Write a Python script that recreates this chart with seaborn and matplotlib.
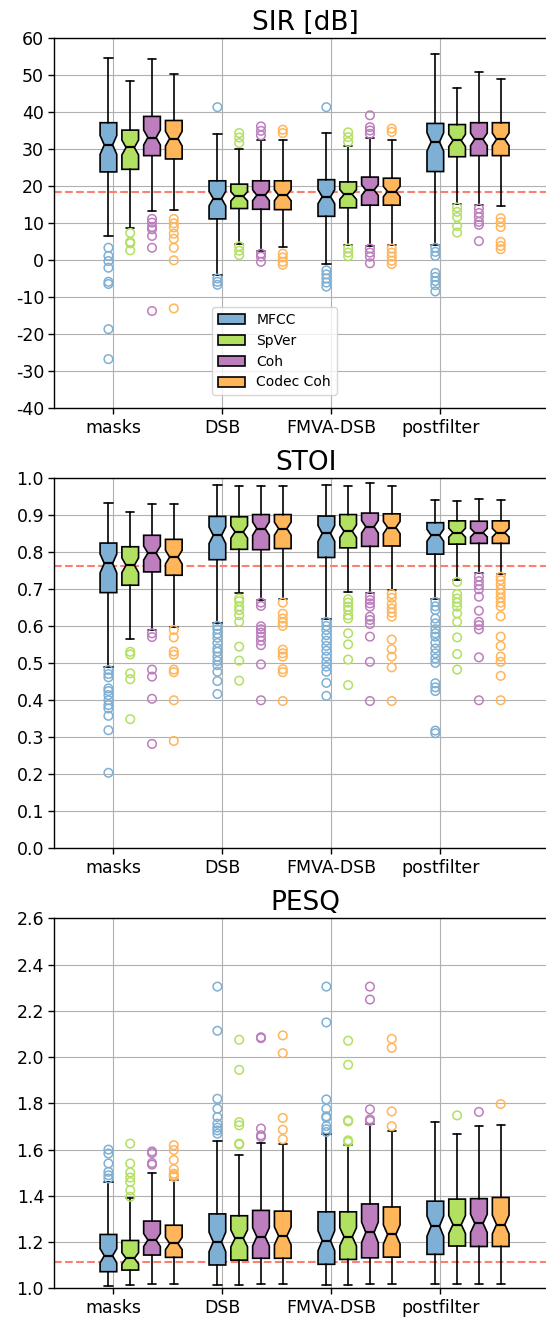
import numpy as np
import pandas as pd
import matplotlib
matplotlib.use("Agg")
import matplotlib.pyplot as plt
from matplotlib.patches import Patch
import seaborn as sns

groups = ["masks", "DSB", "FMVA-DSB", "postfilter"]
methods = ["MFCC", "SpVer", "Coh", "Codec Coh"]
palette = ["#7eb0d5", "#b2e061", "#bd7ebe", "#ffb55a"]
ref_color = "#fd7f6f"
n_utt = 68  # utterances per condition (sets notch width)

# Box summaries per group (rows) and method (cols): (whislo, q1, median, q3, whishi)
sir_box = [
    [(6.5, 23.9, 31.2, 37.2, 54.7), (8.7, 24.6, 30.5, 35.2, 48.5),
     (13.2, 28.3, 33.2, 38.9, 54.3), (13.5, 27.4, 32.9, 37.8, 50.3)],
    [(-4.0, 11.2, 16.7, 21.5, 34.2), (4.4, 14.0, 17.3, 20.6, 30.1),
     (2.5, 13.8, 17.6, 21.5, 32.6), (3.5, 13.7, 17.6, 21.5, 32.4)],
    [(-1.0, 11.9, 17.2, 21.8, 34.5), (4.1, 14.2, 17.8, 21.2, 30.8),
     (3.8, 14.9, 19.0, 22.5, 33.0), (4.1, 14.9, 18.6, 22.2, 32.6)],
    [(4.1, 24.0, 32.0, 37.0, 55.7), (15.3, 28.0, 32.4, 36.7, 46.5),
     (14.9, 28.3, 32.7, 37.2, 50.9), (14.7, 28.3, 32.7, 37.2, 49.0)],
]
sir_fliers = [
    [[3.4, 1.2, -0.2, -2.0, -5.8, -6.4, -18.6, -26.7], [7.4, 5.0, 4.6, 2.7],
     [11.2, 10.2, 9.0, 8.4, 6.6, 3.4, -13.7], [11.2, 10.0, 8.9, 7.2, 5.8, 3.4, 0.0, -13.0]],
    [[41.4, -4.9, -5.8, -6.6], [34.4, 33.2, 31.7, 3.8, 2.6, 1.4],
     [36.2, 35.0, 33.8, 1.8, 1.0, -0.4], [35.3, 34.4, 1.8, 0.8, -0.4, -1.2]],
    [[41.4, -2.7, -3.8, -4.9, -6.0, -7.1], [34.6, 33.3, 32.0, 3.2, 2.1, 1.1],
     [39.2, 36.0, 35.1, 34.2, 3.2, 2.1, 1.0, -0.8], [35.6, 34.7, 3.2, 2.1, 1.0, -0.1, -1.0]],
    [[3.4, 2.3, 1.2, -3.4, -4.5, -5.6, -6.7, -8.4], [14.3, 13.1, 11.7, 9.3, 7.5],
     [14.0, 12.8, 11.7, 10.4, 9.6, 5.2], [11.4, 10.3, 9.0, 5.0, 3.9, 3.0]],
]
sir_ref = 18.4

stoi_box = [
    [(0.489, 0.691, 0.770, 0.825, 0.932), (0.566, 0.711, 0.765, 0.815, 0.908),
     (0.591, 0.747, 0.798, 0.846, 0.930), (0.597, 0.738, 0.787, 0.835, 0.930)],
    [(0.608, 0.780, 0.846, 0.897, 0.981), (0.690, 0.808, 0.855, 0.896, 0.979),
     (0.671, 0.807, 0.864, 0.902, 0.979), (0.673, 0.810, 0.864, 0.902, 0.979)],
    [(0.619, 0.786, 0.851, 0.898, 0.981), (0.694, 0.812, 0.857, 0.902, 0.979),
     (0.690, 0.816, 0.869, 0.906, 0.987), (0.698, 0.817, 0.867, 0.904, 0.979)],
    [(0.675, 0.795, 0.846, 0.880, 0.941), (0.725, 0.822, 0.853, 0.885, 0.938),
     (0.743, 0.824, 0.853, 0.884, 0.943), (0.740, 0.824, 0.853, 0.885, 0.941)],
]
stoi_fliers = [
    [[0.482, 0.471, 0.462, 0.432, 0.425, 0.414, 0.400, 0.387, 0.378, 0.358, 0.319, 0.204],
     [0.531, 0.524, 0.473, 0.457, 0.349],
     [0.581, 0.571, 0.483, 0.464, 0.404, 0.282],
     [0.590, 0.570, 0.532, 0.523, 0.483, 0.476, 0.400, 0.290]],
    [[0.601, 0.592, 0.580, 0.569, 0.555, 0.540, 0.531, 0.518, 0.506, 0.495, 0.477, 0.452, 0.417],
     [0.675, 0.668, 0.654, 0.644, 0.630, 0.612, 0.545, 0.507, 0.453],
     [0.664, 0.655, 0.600, 0.592, 0.583, 0.572, 0.561, 0.549, 0.497, 0.400],
     [0.664, 0.634, 0.621, 0.610, 0.601, 0.537, 0.527, 0.518, 0.484, 0.476, 0.398]],
    [[0.612, 0.601, 0.590, 0.576, 0.561, 0.547, 0.534, 0.518, 0.504, 0.491, 0.477, 0.447, 0.412],
     [0.673, 0.664, 0.653, 0.644, 0.630, 0.621, 0.581, 0.551, 0.510, 0.441],
     [0.681, 0.671, 0.662, 0.653, 0.626, 0.617, 0.606, 0.572, 0.504, 0.398],
     [0.687, 0.677, 0.660, 0.648, 0.637, 0.626, 0.564, 0.538, 0.518, 0.489, 0.398]],
    [[0.666, 0.654, 0.644, 0.621, 0.608, 0.592, 0.581, 0.572, 0.555, 0.540, 0.527, 0.513,
      0.501, 0.446, 0.435, 0.425, 0.318, 0.311],
     [0.720, 0.687, 0.675, 0.664, 0.653, 0.635, 0.612, 0.570, 0.525, 0.483],
     [0.734, 0.722, 0.711, 0.700, 0.680, 0.642, 0.612, 0.603, 0.592, 0.516, 0.400],
     [0.734, 0.725, 0.713, 0.700, 0.689, 0.677, 0.664, 0.654, 0.627, 0.572, 0.547, 0.518,
      0.504, 0.466, 0.400]],
]
stoi_ref = 0.763

pesq_box = [
    [(1.011, 1.072, 1.141, 1.233, 1.458), (1.014, 1.079, 1.130, 1.207, 1.391),
     (1.019, 1.144, 1.209, 1.291, 1.501), (1.019, 1.134, 1.194, 1.273, 1.470)],
    [(1.014, 1.101, 1.201, 1.322, 1.639), (1.014, 1.122, 1.216, 1.314, 1.576),
     (1.019, 1.130, 1.223, 1.337, 1.630), (1.019, 1.130, 1.227, 1.334, 1.624)],
    [(1.014, 1.104, 1.206, 1.331, 1.669), (1.014, 1.125, 1.223, 1.331, 1.622),
     (1.019, 1.132, 1.242, 1.365, 1.712), (1.019, 1.135, 1.233, 1.352, 1.679)],
    [(1.019, 1.147, 1.269, 1.377, 1.719), (1.019, 1.183, 1.276, 1.386, 1.666),
     (1.019, 1.181, 1.281, 1.388, 1.702), (1.019, 1.181, 1.276, 1.393, 1.705)],
]
pesq_fliers = [
    [[1.600, 1.583, 1.540, 1.504, 1.489, 1.475],
     [1.626, 1.540, 1.501, 1.479, 1.460, 1.424, 1.396],
     [1.592, 1.585, 1.542, 1.535],
     [1.619, 1.598, 1.555, 1.515, 1.496, 1.489, 1.482]],
    [[2.305, 2.114, 1.820, 1.777, 1.741, 1.712, 1.695, 1.683, 1.669],
     [2.075, 1.945, 1.719, 1.705, 1.626, 1.622],
     [2.086, 2.082, 1.691, 1.662, 1.655],
     [2.094, 2.017, 1.737, 1.686, 1.645]],
    [[2.305, 2.150, 1.817, 1.777, 1.744, 1.738, 1.702, 1.688, 1.676],
     [2.071, 1.967, 1.727, 1.722, 1.640, 1.633],
     [2.305, 2.249, 1.774, 1.731, 1.724],
     [2.079, 2.040, 1.765, 1.701]],
    [[], [1.748], [1.763], [1.797]],
]
pesq_ref = 1.113

panels = [
    ("SIR [dB]", sir_box, sir_fliers, sir_ref, (-40, 60), np.arange(-40, 61, 10), "{:.0f}"),
    ("STOI", stoi_box, stoi_fliers, stoi_ref, (0.0, 1.0), np.arange(0, 1.01, 0.1), "{:.1f}"),
    ("PESQ", pesq_box, pesq_fliers, pesq_ref, (1.0, 2.6), np.arange(1.0, 2.61, 0.2), "{:.1f}"),
]

sns.set_style("ticks", {
    "axes.grid": True,
    "grid.color": "#b0b0b0",
    "axes.edgecolor": "black",
    "xtick.color": "black",
    "ytick.color": "black",
    "text.color": "black",
    "axes.labelcolor": "black",
})
plt.rcParams["font.family"] = ["DejaVu Sans"]
plt.rcParams["grid.linewidth"] = 0.8
plt.rcParams["axes.linewidth"] = 1.0

fig = plt.figure(figsize=(5.46, 13.18), dpi=100)
axes_rects = [
    [0.0998, 0.6902, 0.920, 0.2807],
    [0.0998, 0.3564, 0.920, 0.2807],
    [0.0998, 0.0225, 0.920, 0.2807],
]

offsets = -0.045 + 0.2 * np.arange(len(methods))
box_w = 0.153
color_map = dict(zip(methods, palette))

for rect, (title, box, fliers, ref, ylim, yticks, fmt) in zip(axes_rects, panels):
    ax = fig.add_axes(rect)

    stats, positions, colors = [], [], []
    rows = []
    for gi in range(len(groups)):
        for mi, m in enumerate(methods):
            lo, q1, med, q3, hi = box[gi][mi]
            half = 1.57 * (q3 - q1) / np.sqrt(n_utt)
            stats.append(dict(med=med, q1=q1, q3=q3, whislo=lo, whishi=hi,
                              cilo=med - half, cihi=med + half, fliers=[]))
            positions.append(gi + offsets[mi])
            colors.append(palette[mi])
            for v in fliers[gi][mi]:
                rows.append((gi + offsets[mi], v, m))

    ax.axhline(ref, color=ref_color, lw=1.5, ls="--", zorder=1.5)

    art = ax.bxp(stats, positions=positions, widths=box_w, shownotches=True,
                 patch_artist=True, showfliers=False, manage_ticks=False,
                 boxprops=dict(edgecolor="black", linewidth=1.2),
                 medianprops=dict(color="black", linewidth=1.6),
                 whiskerprops=dict(color="black", linewidth=1.2),
                 capprops=dict(color="black", linewidth=1.2))
    for patch, c in zip(art["boxes"], colors):
        patch.set_facecolor(c)

    flier_df = pd.DataFrame(rows, columns=["pos", "value", "method"])
    before = len(ax.collections)
    sns.scatterplot(data=flier_df, x="pos", y="value", hue="method",
                    hue_order=methods, palette=color_map, marker="o", s=38,
                    legend=False, ax=ax, zorder=3)
    for coll in ax.collections[before:]:
        fc = coll.get_facecolors()
        coll.set_edgecolors(fc)
        coll.set_facecolors("none")
        coll.set_linewidth(1.1)

    ax.set_xlim(-0.54, 4.07)
    ax.set_ylim(*ylim)
    ax.set_yticks(yticks)
    ax.set_yticklabels([fmt.format(t) for t in yticks])
    ax.set_xticks(np.arange(len(groups)))
    ax.set_xticklabels(groups)
    ax.set_xlabel("")
    ax.set_ylabel("")
    ax.tick_params(labelsize=12.5, length=4, width=1)
    ax.set_title(title, fontsize=19)
    ax.grid(True, color="#b0b0b0", linewidth=0.8)
    ax.set_axisbelow(True)
    ax.spines["right"].set_visible(False)

    if title.startswith("SIR"):
        handles = [Patch(facecolor=c, edgecolor="black", linewidth=1.2, label=m)
                   for m, c in zip(methods, palette)]
        ax.legend(handles=handles, loc="lower left", fontsize=10,
                  bbox_to_anchor=(205 / 546, 1 - 402 / 1318),
                  bbox_transform=fig.transFigure, frameon=True)

fig.savefig("out.png", dpi=100)
